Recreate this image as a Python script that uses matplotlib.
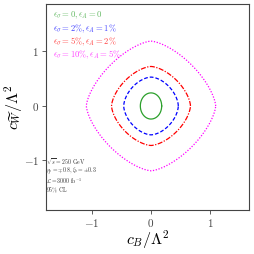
import numpy as np
import matplotlib
matplotlib.use('Agg')
import matplotlib.pyplot as plt

plt.rcParams['mathtext.fontset'] = 'cm'
plt.rcParams['font.family'] = 'serif'
plt.rcParams['font.serif'] = ['cmr10', 'DejaVu Serif']
plt.rcParams['axes.formatter.use_mathtext'] = True

# contour extents: half-width in c_B, half-height in c_W~, shape exponent
labels = [r'$\epsilon_\sigma = 0, \epsilon_A = 0$',
          r'$\epsilon_\sigma = 2\%, \epsilon_A = 1\%$',
          r'$\epsilon_\sigma = 5\%, \epsilon_A = 2\%$',
          r'$\epsilon_\sigma = 10\%, \epsilon_A = 5\%$']
colors = ['#2ca02c', 'blue', 'red', 'magenta']
dashes = [None, (3, 1.6), (4, 1.2, 1, 1.2), (1, 1.3)]
half_x = [0.18, 0.46, 0.665, 1.09]
half_y = [0.24, 0.53, 0.725, 1.19]
shape_p = [2.0, 1.7, 1.6, 1.5]

info = [r'$\sqrt{s}=250$ GeV',
        r'$\eta_b=\mp0.8, \xi_b=\pm0.3$',
        r'$\mathcal{L}=3000$ fb$^{-1}$',
        r'95$\%$ CL']

fig = plt.figure(figsize=(2.54, 2.54), dpi=100)
ax = fig.add_axes([0.181, 0.173, 0.799, 0.811])

t = np.linspace(0, 2 * np.pi, 721)
for a, b, p, c, d in zip(half_x, half_y, shape_p, colors, dashes):
    ct, st = np.cos(t), np.sin(t)
    x = a * np.sign(ct) * np.abs(ct) ** (2.0 / p)
    y = b * np.sign(st) * np.abs(st) ** (2.0 / p)
    line, = ax.plot(x, y, color=c, lw=0.9)
    if d is not None:
        line.set_dashes(d)

for i, (lab, c) in enumerate(zip(labels, colors)):
    ax.text(0.035, 0.945 - i * 0.064, lab, color=c, fontsize=6.2, alpha=0.75,
            transform=ax.transAxes, va='center', ha='left')

for i, s in enumerate(info):
    ax.text(0.0, 0.235 - i * 0.047, s, fontsize=4.2, color='#333333',
            transform=ax.transAxes, va='center', ha='left')

ax.set_xlim(-1.77, 1.65)
ax.set_ylim(-1.91, 1.87)
ax.set_xticks([-1, 0, 1])
ax.set_yticks([-1, 0, 1])
ax.tick_params(labelsize=8, length=3, width=0.6, colors='#444444', pad=2)
for sp in ax.spines.values():
    sp.set_color('#444444')
    sp.set_linewidth(0.8)
ax.set_xlabel(r'$c_B/\Lambda^2$', fontsize=11.5, labelpad=0)
ax.set_ylabel(r'$c_{\widetilde{W}}/\Lambda^2$', fontsize=11.5, labelpad=-1)

fig.savefig('out.png', dpi=100)
